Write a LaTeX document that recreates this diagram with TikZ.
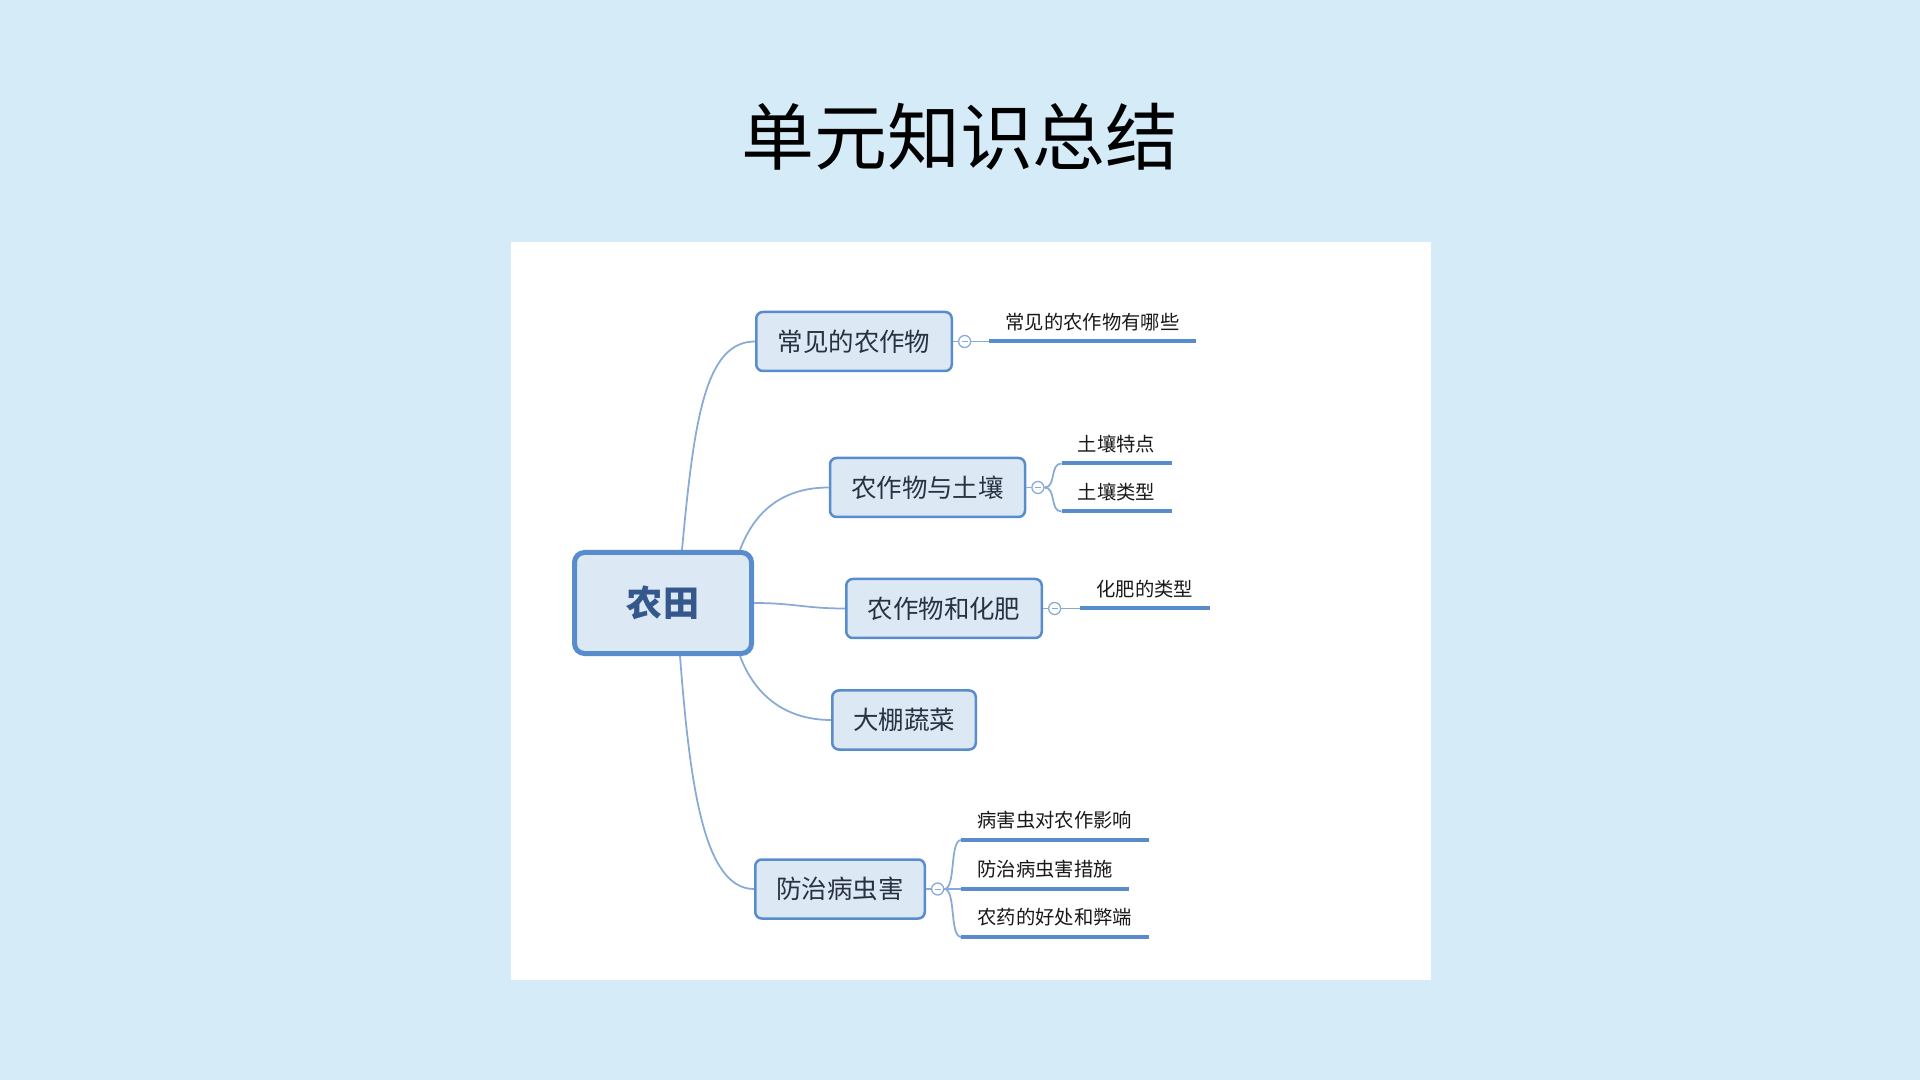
\documentclass[tikz,border=0pt]{standalone}
\usepackage{fontspec}
\setmainfont{Noto Sans CJK SC}
\usepackage{xcolor}
\usetikzlibrary{positioning,calc}

\definecolor{bgblue}{RGB}{213,235,248}
\definecolor{boxfill}{RGB}{221,232,245}
\definecolor{boxline}{RGB}{88,140,205}
\definecolor{linkline}{RGB}{135,170,215}
\definecolor{roottext}{RGB}{52,88,140}
\definecolor{nodetext}{RGB}{40,50,66}

\begin{document}
\begin{tikzpicture}[
    x=0.2mm, y=-0.2mm,
    root/.style={
        draw=boxline,
        fill=boxfill,
        rounded corners=2mm,
        minimum width=35.4mm,
        minimum height=20.2mm,
        line width=1mm,
        text=roottext,
        font=\fontsize{20.5}{24}\selectfont\bfseries
    },
    topic/.style={
        draw=boxline,
        fill=boxfill,
        rounded corners=1.3mm,
        minimum width=#1,
        minimum height=11.8mm,
        inner sep=0pt,
        line width=0.5mm,
        text=nodetext,
        font=\fontsize{14.5}{17}\selectfont
    },
    knob/.style={
        circle,
        draw=linkline,
        fill=white,
        line width=0.25mm,
        minimum size=2.4mm,
        inner sep=0pt,
        path picture={
            \draw[linkline, line width=0.2mm]
                ([xshift=-0.6mm]path picture bounding box.center) --
                ([xshift=0.6mm]path picture bounding box.center);
        }
    },
    leaf/.style={
        anchor=south west,
        inner xsep=3.2mm,
        inner ysep=2.2mm,
        text height=0.8em,
        text depth=0.05em,
        text=black!90,
        font=\fontsize{11}{13}\selectfont
    },
    link/.style={draw=linkline, line width=0.35mm},
    bar/.style={draw=boxline, line width=0.8mm}
]

%-----------------------------------
% Background and panel
%-----------------------------------
\fill[bgblue] (0,0) rectangle (1920,1080);
\fill[white] (511,242) rectangle (1431,980);

\node[font=\fontsize{41.5}{50}\selectfont] (Title) at (960,137) {单元知识总结};

%-----------------------------------
% Central topic and main branches
%-----------------------------------
\node[root] (Farm) at (663,603) {农田};

\node[topic=39.1mm] (Crops) at (854,341.5) {常见的农作物};
\node[topic=39.0mm] (Soil)  at (927.5,487.5) {农作物与土壤};
\node[topic=39.1mm] (Fert)  at (944,608.5) {农作物和化肥};
\node[topic=28.7mm] (Shed)  at (904,720) {大棚蔬菜};
\node[topic=33.9mm] (Pest)  at (840,889) {防治病虫害};

%-----------------------------------
% Fold markers
%-----------------------------------
\node[knob, right=1mm of Crops] (CropsK) {};
\node[knob, right=1mm of Soil]  (SoilK)  {};
\node[knob, right=1mm of Fert]  (FertK)  {};
\node[knob, right=1mm of Pest]  (PestK)  {};

%-----------------------------------
% Sub topics
%-----------------------------------
\node[leaf] (CropsA) at ($(CropsK.east)+(18,0)$) {常见的农作物有哪些};

\node[leaf] (SoilA) at ($(SoilK.east)+(17,-24)$) {土壤特点};
\node[leaf] (SoilB) at ($(SoilK.east)+(17,24)$)  {土壤类型};

\node[leaf] (FertA) at ($(FertK.east)+(19,0)$) {化肥的类型};

\node[leaf] (PestA) at ($(PestK.east)+(17,-49)$) {病害虫对农作影响};
\node[leaf] (PestB) at ($(PestK.east)+(17,0)$)   {防治病虫害措施};
\node[leaf] (PestC) at ($(PestK.east)+(17,48)$)  {农药的好处和弊端};

%-----------------------------------
% Connectors
%-----------------------------------
\draw[link] ($(Farm.north)+(19,0)$) .. controls +(12,-130) and +(-50,0) .. (Crops.west);
\draw[link] ($(Farm.north east)+(-14,0)$) .. controls +(15,-40) and +(-45,0) .. (Soil.west);
\draw[link] (Farm.east) .. controls +(40,0) and +(-40,0) .. (Fert.west);
\draw[link] ($(Farm.south east)+(-14,0)$) .. controls +(15,40) and +(-45,0) .. (Shed.west);
\draw[link] ($(Farm.south)+(17,0)$) .. controls +(10,130) and +(-50,0) .. (Pest.west);

\draw[link] (Crops.east) -- (CropsK.west);
\draw[link] (Soil.east)  -- (SoilK.west);
\draw[link] (Fert.east)  -- (FertK.west);
\draw[link] (Pest.east)  -- (PestK.west);

\draw[link] (CropsK.east) -- (CropsA.south west);
\draw[link] (SoilK.east) .. controls +(12,0) and +(-12,0) .. (SoilA.south west);
\draw[link] (SoilK.east) .. controls +(12,0) and +(-12,0) .. (SoilB.south west);
\draw[link] (FertK.east) -- (FertA.south west);
\draw[link] (PestK.east) .. controls +(12,0) and +(-12,0) .. (PestA.south west);
\draw[link] (PestK.east) -- (PestB.south west);
\draw[link] (PestK.east) .. controls +(12,0) and +(-12,0) .. (PestC.south west);

\draw[bar] (CropsA.south west) -- (CropsA.south east);
\draw[bar] (SoilA.south west) -- (SoilA.south east);
\draw[bar] (SoilB.south west) -- (SoilB.south east);
\draw[bar] (FertA.south west) -- (FertA.south east);
\draw[bar] (PestA.south west) -- (PestA.south east);
\draw[bar] (PestB.south west) -- (PestB.south east);
\draw[bar] (PestC.south west) -- (PestC.south east);

\end{tikzpicture}
\end{document}
